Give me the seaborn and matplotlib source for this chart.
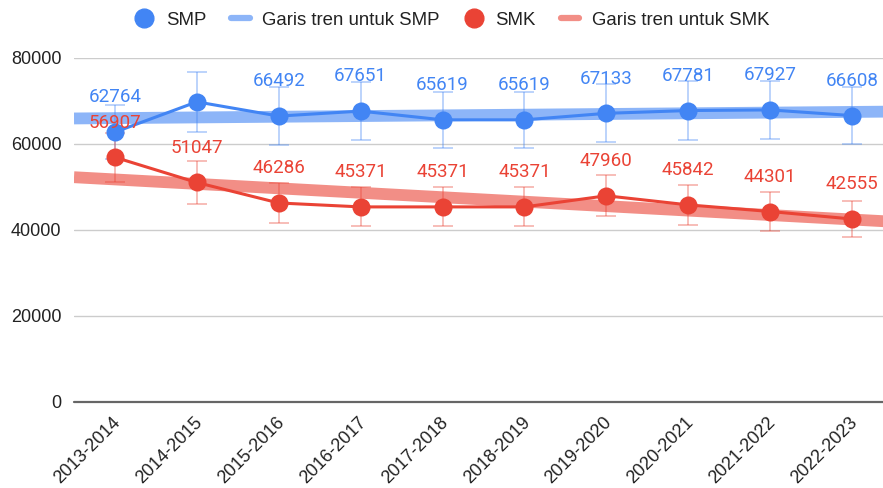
import numpy as np
import pandas as pd
import matplotlib
matplotlib.use("Agg")
import matplotlib.pyplot as plt
import matplotlib.transforms as mtransforms
import seaborn as sns
from matplotlib.lines import Line2D
from matplotlib.ticker import FuncFormatter

# ---- data ----
years = ["2013-2014", "2014-2015", "2015-2016", "2016-2017", "2017-2018",
         "2018-2019", "2019-2020", "2020-2021", "2021-2022", "2022-2023"]
smp = [62764, 69800, 66492, 67651, 65619, 65619, 67133, 67781, 67927, 66608]
smk = [56907, 51047, 46286, 45371, 45371, 45371, 47960, 45842, 44301, 42555]
# the 2014-2015 SMP value label is hidden in the original chart
smp_show_label = [True, False, True, True, True, True, True, True, True, True]
smk_show_label = [True] * 10
err_pct = 0.10  # percentage error bars

c_smp = "#4285F4"
c_smk = "#EA4335"

df = pd.DataFrame({"idx": np.arange(len(years)), "year": years, "SMP": smp, "SMK": smk})

sns.set_style("white")
plt.rcParams["font.family"] = ["Liberation Sans", "DejaVu Sans"]

fig = plt.figure(figsize=(8.83, 4.88), dpi=100)
ax = fig.add_axes([74 / 883, 86 / 488, 819 / 883, 344 / 488])
ax.set_xlim(-0.5, 9.5)
ax.set_ylim(0, 80000)

# trend lines (linear fit over full axis width)
for col, c in [("SMP", c_smp), ("SMK", c_smk)]:
    sns.regplot(data=df, x="idx", y=col, ax=ax, scatter=False, ci=None,
                truncate=False, line_kws=dict(color=c, lw=8.5, alpha=0.6,
                                              solid_capstyle="butt", zorder=2))

# error bars
for col, c in [("SMP", c_smp), ("SMK", c_smk)]:
    ax.errorbar(df["idx"], df[col], yerr=df[col] * err_pct, fmt="none",
                ecolor=c, alpha=0.45, elinewidth=1.1, capsize=7.5, capthick=1.1,
                zorder=3)

# data lines
for col, c in [("SMP", c_smp), ("SMK", c_smk)]:
    sns.lineplot(data=df, x="idx", y=col, ax=ax, color=c, lw=2.2, marker="o",
                 markersize=13, markeredgewidth=0, zorder=4)

# value labels
for col, c, show in [("SMP", c_smp, smp_show_label), ("SMK", c_smk, smk_show_label)]:
    for i, v in enumerate(df[col]):
        if show[i]:
            ax.annotate(f"{v}", (i, v), xytext=(0, 25), textcoords="offset points",
                        ha="center", va="center", color=c, fontsize=13.5,
                        family=["Roboto", "DejaVu Sans"], zorder=5)

# axes styling
ax.grid(True, axis="y", color="#cccccc", lw=1)
ax.grid(False, axis="x")
for s in ax.spines.values():
    s.set_visible(False)
ax.axhline(0, color="#666666", lw=1.6, clip_on=False, zorder=1)
ax.set_xticks(df["idx"])
ax.set_xticklabels(years, rotation=45, ha="right", va="center",
                   rotation_mode="anchor", fontsize=13, color="#222222")
ax.tick_params(axis="x", length=0, pad=13)
shift = mtransforms.ScaledTranslation(3 / 100, 0, fig.dpi_scale_trans)
for lbl in ax.get_xticklabels():
    lbl.set_transform(lbl.get_transform() + shift)
ax.tick_params(axis="y", length=0, pad=9, labelsize=13, labelcolor="#222222")
ax.yaxis.set_major_formatter(FuncFormatter(lambda v, p: f"{int(v)}"))
ax.set_yticks([0, 20000, 40000, 60000, 80000])
ax.set_xlabel("")
ax.set_ylabel("")

handles = [
    Line2D([0], [0], marker="o", ls="none", color=c_smp, markersize=13.5, label="SMP"),
    Line2D([0], [0], color=c_smp, lw=4.5, alpha=0.6, label="Garis tren untuk SMP"),
    Line2D([0], [0], marker="o", ls="none", color=c_smk, markersize=13.5, label="SMK"),
    Line2D([0], [0], color=c_smk, lw=4.5, alpha=0.6, label="Garis tren untuk SMK"),
]
fig.legend(handles=handles, loc="center", bbox_to_anchor=(0.512, 0.959), ncol=4,
           frameon=False, fontsize=13.4, handlelength=1.0, columnspacing=1.35,
           handletextpad=0.65, labelcolor="#222222")

fig.savefig("out.png", dpi=100)
plt.close(fig)
